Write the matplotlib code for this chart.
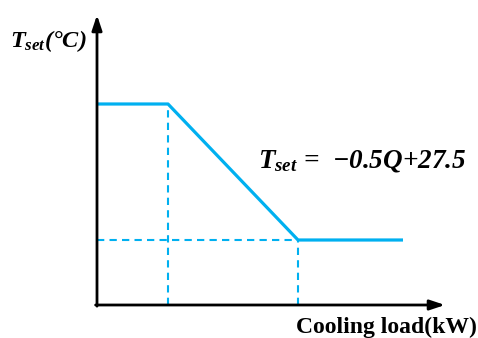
import matplotlib
matplotlib.use("Agg")
import matplotlib.pyplot as plt

plt.rcParams['mathtext.fontset'] = 'custom'
plt.rcParams['mathtext.it'] = 'Liberation Serif:italic:bold'
plt.rcParams['mathtext.rm'] = 'Liberation Serif:bold'
plt.rcParams['mathtext.bf'] = 'Liberation Serif:bold'

# set-point schedule: T_set = -0.5Q + 27.5 between the two break points
q_start = -1.37
q_break = [3, 11]
q_end = 17.46
t_high = 26.0
t_low = 22.0

q_line = [q_start, q_break[0], q_break[1], q_end]
t_line = [t_high, t_high, t_low, t_low]

blue = '#00B0F0'

fig = plt.figure(figsize=(4.78, 3.38), dpi=100)
ax = fig.add_axes([97 / 478, 33 / 338, 348 / 478, 290 / 338])
ax.set_xlim(q_start, q_start + 348 / 16.25)
ax.set_ylim(22 - 65 / 34, 22 - 65 / 34 + 290 / 34)
ax.axis('off')

ax.plot(q_line, t_line, color=blue, lw=2.3, solid_capstyle='butt', zorder=3)

dash = dict(color=blue, lw=1.5, linestyle=(0, (3.5, 2.5)), zorder=2)
ymin = ax.get_ylim()[0]
ax.plot([q_break[0], q_break[0]], [ymin, t_high], **dash)
ax.plot([q_break[1], q_break[1]], [ymin, t_low], **dash)
ax.plot([q_start, q_break[1]], [t_low, t_low], **dash)

# axes with arrow heads
arrow = dict(arrowstyle='-|>,head_length=0.9,head_width=0.3', color='black', lw=2.0,
             shrinkA=0, shrinkB=0)
ax.annotate('', xy=(1, 0), xytext=(-0.004, 0), xycoords='axes fraction', arrowprops=arrow)
ax.annotate('', xy=(0, 1), xytext=(0, -0.004), xycoords='axes fraction', arrowprops=arrow)

fig.text(10 / 478, 1 - 47 / 338, r'$T_{set}$' + '(°C)', family='Liberation Serif',
         fontweight='bold', style='italic', fontsize=17.5, ha='left', va='baseline')
fig.text(258 / 478, 1 - 167 / 338, r'$T_{set}$ =  −0.5Q+27.5', family='Liberation Serif',
         fontweight='bold', style='italic', fontsize=19.5, ha='left', va='baseline')
fig.text(477 / 478, 1 - 333 / 338, 'Cooling load(kW)', family='Liberation Serif',
         fontweight='bold', fontsize=17, ha='right', va='baseline')

fig.savefig('out.png', dpi=100)
